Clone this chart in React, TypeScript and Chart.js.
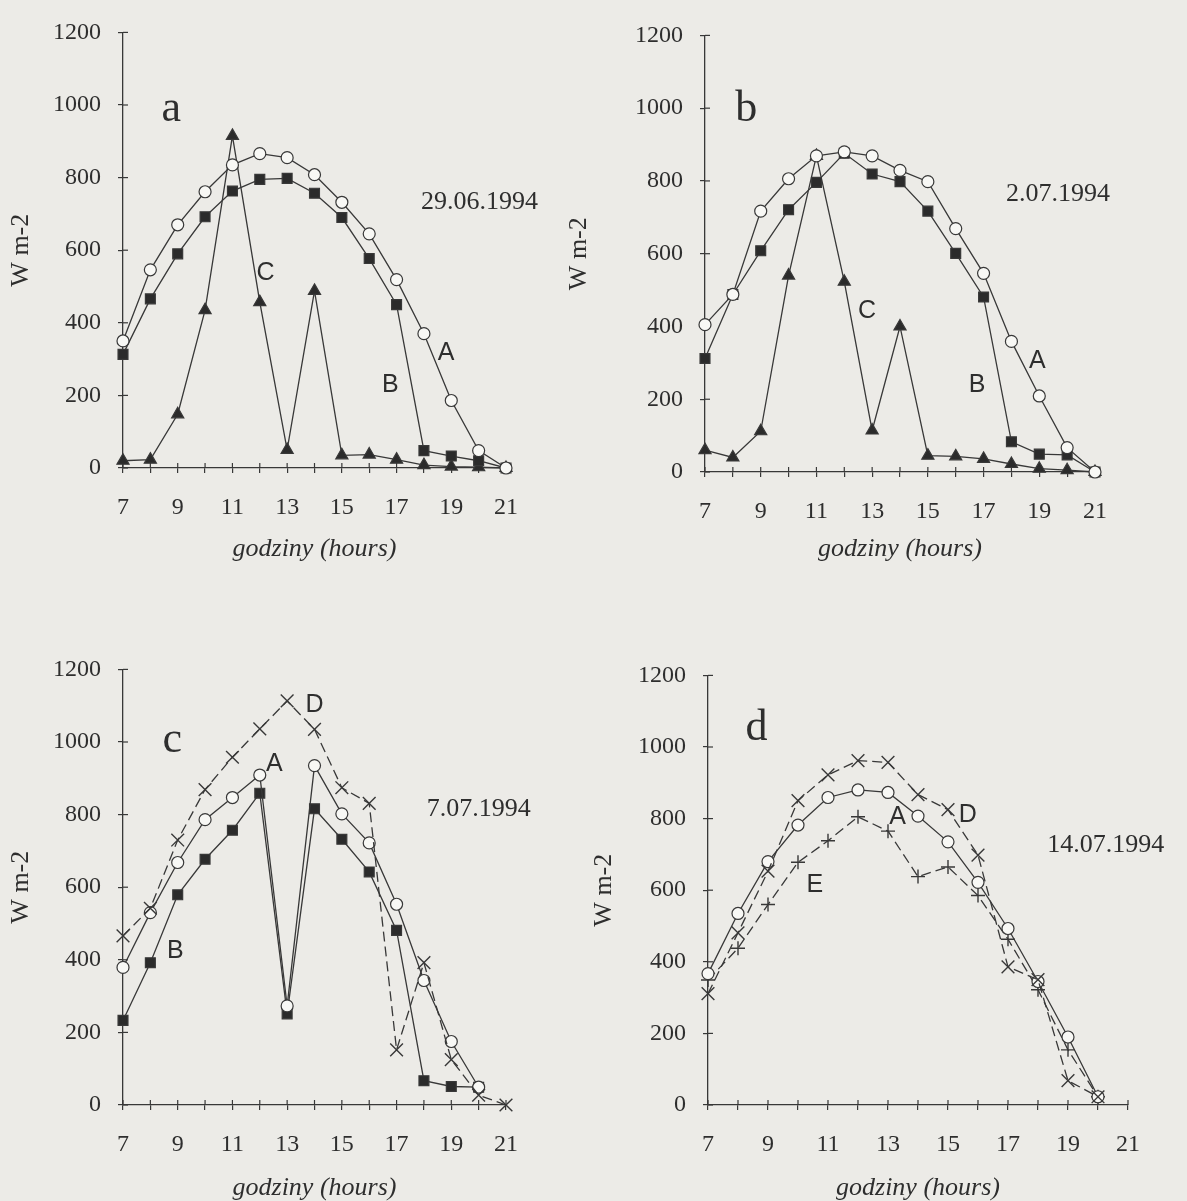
import React, { useEffect, useRef } from 'react';
import { Chart, registerables } from 'chart.js';

Chart.register(...registerables);

// ---------- data ----------
const hours = [7, 8, 9, 10, 11, 12, 13, 14, 15, 16, 17, 18, 19, 20, 21];
const xTickLabels = ['7', '9', '11', '13', '15', '17', '19', '21'];
const yTicks = [0, 200, 400, 600, 800, 1000, 1200];

// panel a – 29.06.1994
const a_A = [350, 546, 670, 761, 835, 866, 855, 808, 732, 645, 519, 370, 186, 48, 0];
const a_B = [313, 466, 590, 692, 763, 795, 798, 757, 690, 577, 450, 48, 33, 20, 0];
const a_C = [20, 23, 148, 435, 915, 457, 50, 488, 35, 37, 23, 8, 4, 2, 0];

// panel b – 2.07.1994
const b_A = [405, 488, 717, 806, 869, 880, 869, 829, 798, 669, 546, 359, 209, 67, 0];
const b_B = [312, 488, 608, 721, 796, 876, 819, 798, 717, 601, 481, 83, 49, 47, 0];
const b_C = [60, 40, 112, 540, 869, 523, 114, 400, 45, 43, 36, 22, 9, 5, 0];

// panel c – 7.07.1994
const c_D = [466, 542, 730, 869, 958, 1036, 1113, 1035, 874, 831, 152, 392, 125, 27, 0];
const c_A = [379, 530, 668, 786, 847, 909, 273, 935, 802, 722, 553, 343, 175, 49, null];
const c_B = [233, 392, 579, 677, 757, 859, 251, 816, 732, 642, 481, 67, 51, 49, null];

// panel d – 14.07.1994
const d_D = [311, 481, 653, 850, 922, 962, 957, 867, 825, 698, 386, 350, 68, 23, null];
const d_A = [367, 535, 680, 782, 859, 880, 873, 807, 735, 622, 493, 345, 190, 23, null];
const d_E = [349, 438, 560, 678, 738, 805, 765, 638, 665, 585, 463, 322, 154, 23, null];

// ---------- styles ----------
const INK = '#2e2e2e';
const LINE = '#383838';
const BG = '#ecebe7';
const SERIF = '"Liberation Serif", "DejaVu Serif", serif';
const SANS = '"Liberation Sans", Arial, sans-serif';

type Kind = 'A' | 'B' | 'C' | 'D' | 'E';

function styleFor(kind: Kind) {
  const base: any = {
    borderColor: LINE,
    borderWidth: 1.3,
    pointBorderColor: LINE,
    pointBorderWidth: 1.2,
    tension: 0,
    fill: false,
    clip: false,
  };
  switch (kind) {
    case 'A':
      return { ...base, pointStyle: 'circle', pointRadius: 6, pointBackgroundColor: '#f8f8f5' };
    case 'B':
      return { ...base, pointStyle: 'rect', pointRadius: 7, pointBackgroundColor: '#2b2b2b' };
    case 'C':
      return { ...base, pointStyle: 'triangle', pointRadius: 7, pointBackgroundColor: '#2b2b2b' };
    case 'D':
      return { ...base, pointStyle: 'crossRot', pointRadius: 9, pointBorderWidth: 1.4, borderDash: [10, 5], pointBackgroundColor: LINE };
    case 'E':
      return { ...base, pointStyle: 'cross', pointRadius: 7, pointBorderWidth: 1.4, borderDash: [10, 5], pointBackgroundColor: LINE };
  }
}

type Note = { text: string; x: number; y: number; font: string };

type PanelCfg = {
  left: number; top: number; width: number; height: number;
  yAxisWidth: number; xAxisHeight: number; padRight: number;
  series: { kind: Kind; values: (number | null)[] }[];
  notes: Note[];
};

const LETTER = `44px ${SERIF}`;
const CURVE = `25px ${SANS}`;
const DATE = `26px ${SERIF}`;

const panels: PanelCfg[] = [
  {
    left: 4, top: 1, width: 534, height: 564, yAxisWidth: 119, xAxisHeight: 97, padRight: 25,
    series: [{ kind: 'A', values: a_A }, { kind: 'B', values: a_B }, { kind: 'C', values: a_C }],
    notes: [
      { text: 'a', x: 8.76, y: 989, font: LETTER },
      { text: 'C', x: 12.21, y: 538, font: CURVE },
      { text: 'B', x: 16.77, y: 228, font: CURVE },
      { text: 'A', x: 18.81, y: 317, font: CURVE },
      { text: '29.06.1994', x: 20.03, y: 731, font: DATE },
    ],
  },
  {
    left: 562, top: 4, width: 565, height: 561, yAxisWidth: 143, xAxisHeight: 93, padRight: 25,
    series: [{ kind: 'A', values: b_A }, { kind: 'B', values: b_B }, { kind: 'C', values: b_C }],
    notes: [
      { text: 'b', x: 8.48, y: 997, font: LETTER },
      { text: 'C', x: 12.82, y: 442, font: CURVE },
      { text: 'B', x: 16.77, y: 240, font: CURVE },
      { text: 'A', x: 18.93, y: 305, font: CURVE },
      { text: '2.07.1994', x: 19.67, y: 763, font: DATE },
    ],
  },
  {
    left: 4, top: 638, width: 534, height: 566, yAxisWidth: 119, xAxisHeight: 99, padRight: 25,
    series: [{ kind: 'D', values: c_D }, { kind: 'A', values: c_A }, { kind: 'B', values: c_B }],
    notes: [
      { text: 'c', x: 8.8, y: 1003, font: LETTER },
      { text: 'D', x: 14.0, y: 1102, font: CURVE },
      { text: 'A', x: 12.53, y: 938, font: CURVE },
      { text: 'B', x: 8.91, y: 425, font: CURVE },
      { text: '7.07.1994', x: 20.0, y: 815, font: DATE },
    ],
  },
  {
    left: 587, top: 644, width: 600, height: 560, yAxisWidth: 121, xAxisHeight: 99, padRight: 59,
    series: [{ kind: 'D', values: d_D }, { kind: 'A', values: d_A }, { kind: 'E', values: d_E }],
    notes: [
      { text: 'd', x: 8.62, y: 1053, font: LETTER },
      { text: 'A', x: 13.32, y: 805, font: CURVE },
      { text: 'E', x: 10.56, y: 615, font: CURVE },
      { text: 'D', x: 15.66, y: 811, font: CURVE },
      { text: '14.07.1994', x: 20.26, y: 727, font: DATE },
    ],
  },
];

// ---------- plugins ----------
const innerTicks = {
  id: 'innerTicks',
  beforeDatasetsDraw(chart: any) {
    const { ctx, chartArea, scales } = chart;
    ctx.save();
    ctx.strokeStyle = LINE;
    ctx.lineWidth = 1.2;
    scales.x.ticks.forEach((t: any) => {
      const px = scales.x.getPixelForValue(t.value);
      ctx.beginPath();
      ctx.moveTo(px, chartArea.bottom);
      ctx.lineTo(px, chartArea.bottom - 5);
      ctx.stroke();
    });
    scales.y.ticks.forEach((t: any) => {
      const py = scales.y.getPixelForValue(t.value);
      ctx.beginPath();
      ctx.moveTo(chartArea.left, py);
      ctx.lineTo(chartArea.left + 5, py);
      ctx.stroke();
    });
    ctx.restore();
  },
};

function makeNotes(notes: Note[]) {
  return {
    id: 'notes',
    afterDatasetsDraw(chart: any) {
      const { ctx, scales } = chart;
      ctx.save();
      ctx.fillStyle = INK;
      ctx.textAlign = 'center';
      ctx.textBaseline = 'middle';
      notes.forEach((n) => {
        ctx.font = n.font;
        ctx.fillText(n.text, scales.x.getPixelForValue(n.x), scales.y.getPixelForValue(n.y));
      });
      ctx.restore();
    },
  };
}

function Panel({ cfg }: { cfg: PanelCfg }) {
  const ref = useRef<HTMLCanvasElement | null>(null);
  useEffect(() => {
    if (!ref.current) return;
    const tickFont = { family: SERIF, size: 24 };
    const chart = new Chart(ref.current, {
      type: 'line',
      data: {
        datasets: cfg.series.map((s) => ({
          label: s.kind,
          data: hours.map((h, i) => ({ x: h, y: s.values[i] })),
          ...styleFor(s.kind),
        })) as any,
      },
      options: {
        animation: false,
        responsive: false,
        devicePixelRatio: 1,
        layout: { padding: { left: 0, top: 20, right: cfg.padRight, bottom: 0 } },
        plugins: { legend: { display: false }, tooltip: { enabled: false } },
        scales: {
          x: {
            type: 'linear',
            min: 7,
            max: 21,
            ticks: {
              stepSize: 1,
              autoSkip: false,
              maxRotation: 0,
              padding: 20,
              color: INK,
              font: tickFont,
              callback: (v: any) => (xTickLabels.includes(String(v)) ? String(v) : ''),
            },
            grid: { display: true, drawOnChartArea: false, drawTicks: true, tickLength: 5, color: LINE, lineWidth: 1.2 },
            border: { display: true, color: LINE, width: 1.3 },
            title: {
              display: true,
              text: 'godziny (hours)',
              color: INK,
              font: { family: SERIF, size: 26, style: 'italic' },
              padding: { top: 0, bottom: 0 },
            },
            afterFit: (s: any) => { s.height = cfg.xAxisHeight; },
          },
          y: {
            type: 'linear',
            min: 0,
            max: 1200,
            afterBuildTicks: (s: any) => { s.ticks = yTicks.map((v) => ({ value: v })); },
            ticks: { padding: 17, color: INK, font: tickFont, callback: (v: any) => String(v) },
            grid: { display: true, drawOnChartArea: false, drawTicks: true, tickLength: 5, color: LINE, lineWidth: 1.2 },
            border: { display: true, color: LINE, width: 1.3 },
            title: {
              display: true,
              text: 'W m-2',
              color: INK,
              font: { family: SERIF, size: 26 },
              padding: { top: 2, bottom: 0 },
            },
            afterFit: (s: any) => { s.width = cfg.yAxisWidth; },
          },
        },
      } as any,
      plugins: [innerTicks, makeNotes(cfg.notes)],
    });
    return () => chart.destroy();
  }, [cfg]);
  return (
    <canvas
      ref={ref}
      width={cfg.width}
      height={cfg.height}
      style={{ position: 'absolute', left: cfg.left, top: cfg.top, width: cfg.width, height: cfg.height }}
    />
  );
}

export default function App() {
  return (
    <div
      style={{
        position: 'absolute',
        left: 0,
        top: 0,
        width: 1187,
        height: 1201,
        overflow: 'hidden',
        background: BG,
      }}
    >
      {panels.map((p, i) => (
        <Panel key={i} cfg={p} />
      ))}
    </div>
  );
}
